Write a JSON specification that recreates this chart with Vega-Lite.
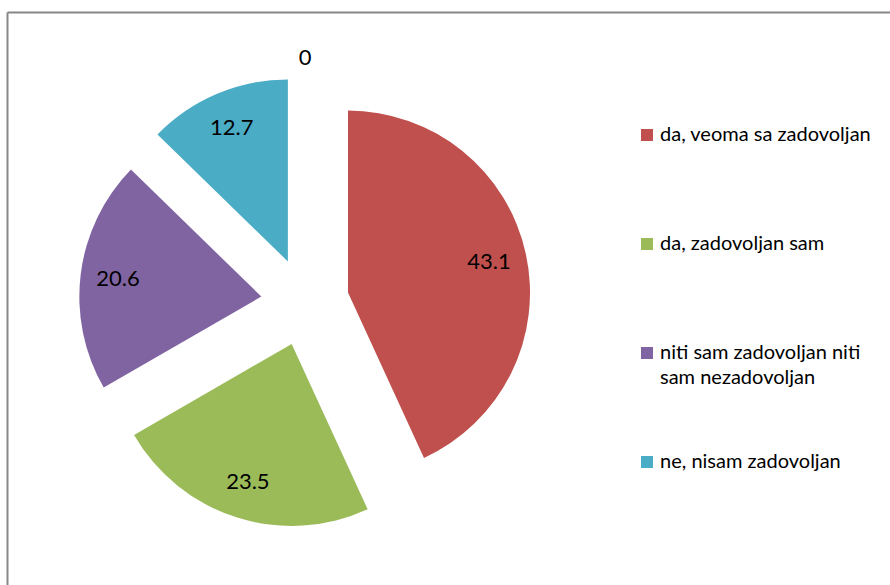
{
  "$schema": "https://vega.github.io/schema/vega-lite/v6.json",
  "width": 883,
  "height": 573,
  "autosize": {"type": "none"},
  "padding": {"left": 7, "top": 12, "right": 0, "bottom": 0},
  "background": "white",
  "config": {
    "view": {"stroke": null},
    "font": "Lato",
    "text": {"font": "Lato"},
    "style": {"guide-label": {"lineHeight": 25}}
  },
  "data": {
    "values": [
      {"cat": "da, veoma sa zadovoljan", "value": 43.1, "idx": 1},
      {"cat": "da, zadovoljan sam", "value": 23.5, "idx": 2},
      {"cat": "niti sam zadovoljan niti sam nezadovoljan", "value": 20.6, "idx": 3},
      {"cat": "ne, nisam zadovoljan", "value": 12.7, "idx": 4},
      {"cat": "", "value": 0, "idx": 5}
    ]
  },
  "transform": [
    {"window": [{"op": "sum", "field": "value", "as": "cum"}], "sort": [{"field": "idx"}], "frame": [null, 0]},
    {"joinaggregate": [{"op": "sum", "field": "value", "as": "total"}]},
    {"calculate": "2*PI*(datum.cum - datum.value)/datum.total", "as": "a0"},
    {"calculate": "2*PI*datum.cum/datum.total", "as": "a1"},
    {"calculate": "(datum.a0 + datum.a1)/2", "as": "mid"}
  ],
  "encoding": {
    "x": {
      "field": "px", "type": "quantitative",
      "scale": {"domain": [-1.6374, 3.2143], "nice": false, "zero": false},
      "axis": {"orient": "top", "domain": true, "domainColor": "#878787", "domainWidth": 2, "ticks": false, "labels": false, "grid": false, "title": null}
    },
    "y": {
      "field": "py", "type": "quantitative",
      "scale": {"domain": [-1.5549, 1.5934], "nice": false, "zero": false},
      "axis": {"orient": "left", "domain": true, "domainColor": "#878787", "domainWidth": 2, "ticks": false, "labels": false, "grid": false, "title": null}
    }
  },
  "layer": [
    {
      "transform": [
        {"filter": "datum.value > 0"},
        {"calculate": "0.2418*sin(datum.mid)", "as": "px"},
        {"calculate": "0.2418*cos(datum.mid)", "as": "py"}
      ],
      "mark": {"type": "arc", "outerRadius": 182, "innerRadius": 0, "stroke": null},
      "encoding": {
        "theta": {"field": "a0", "type": "quantitative", "scale": null},
        "theta2": {"field": "a1"},
        "color": {
          "field": "cat", "type": "nominal",
          "scale": {
            "domain": ["da, veoma sa zadovoljan", "da, zadovoljan sam", "niti sam zadovoljan niti sam nezadovoljan", "ne, nisam zadovoljan"],
            "range": ["#C0504D", "#9BBB59", "#8064A2", "#4BACC6"]
          },
          "legend": {
            "title": null,
            "orient": "none",
            "legendX": 630,
            "legendY": 113,
            "padding": 0,
            "symbolType": "square",
            "symbolSize": 144,
            "symbolStrokeWidth": 0,
            "labelFont": "Lato",
            "labelFontSize": 20,
            "labelColor": "#000000",
            "labelOffset": 3,
            "labelLimit": 400,
            "rowPadding": 64,
            "gridAlign": "all",
            "labelExpr": "datum.label == 'niti sam zadovoljan niti sam nezadovoljan' ? ['niti sam zadovoljan niti', 'sam nezadovoljan'] : datum.label"
          }
        }
      }
    },
    {
      "transform": [
        {"calculate": "(datum.value == 0 ? 1.34 : 1.035)*sin(datum.mid)", "as": "px"},
        {"calculate": "(datum.value == 0 ? 1.34 : 1.035)*cos(datum.mid)", "as": "py"}
      ],
      "mark": {"type": "text", "fontSize": 22, "font": "Lato", "color": "#000000", "align": "center", "baseline": "middle"},
      "encoding": {
        "text": {"field": "value", "type": "quantitative"}
      }
    }
  ]
}
